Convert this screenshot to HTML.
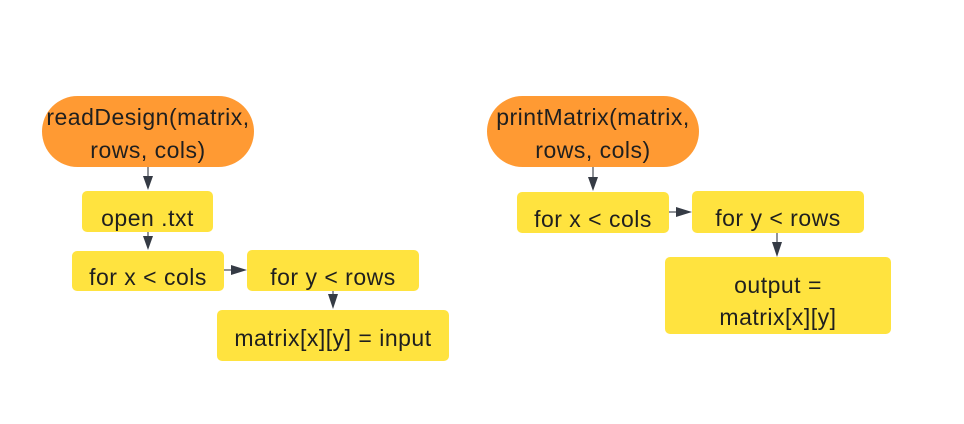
<!DOCTYPE html>
<html><head><meta charset="utf-8"><style>
html,body{margin:0;padding:0;background:#fff;}
body{width:964px;height:419px;overflow:hidden;}
text{font-family:"Liberation Sans",sans-serif;font-size:23px;letter-spacing:0.5px;fill:#1f1f1f;}
</style></head><body>
<svg width="964" height="419" viewBox="0 0 964 419" xmlns="http://www.w3.org/2000/svg">
<!-- left -->
<rect x="42" y="96" width="212" height="71" rx="35.5" fill="#FF9A33"/>
<text x="148" y="125" text-anchor="middle">readDesign(matrix,</text>
<text x="148" y="158" text-anchor="middle">rows, cols)</text>
<rect x="82" y="191" width="131" height="41" rx="5" fill="#FFE33F"/>
<text x="147.5" y="226" text-anchor="middle">open .txt</text>
<rect x="72" y="251" width="152" height="40" rx="5" fill="#FFE33F"/>
<text x="148" y="285" text-anchor="middle">for x &lt; cols</text>
<rect x="247" y="250" width="172" height="41" rx="5" fill="#FFE33F"/>
<text x="333" y="285" text-anchor="middle">for y &lt; rows</text>
<rect x="217" y="310" width="232" height="51" rx="5" fill="#FFE33F"/>
<text x="333" y="346" text-anchor="middle">matrix[x][y] = input</text>
<g stroke="#6b6f76" stroke-width="1.5">
<line x1="148" y1="167" x2="148" y2="177"/>
<line x1="148" y1="232" x2="148" y2="237"/>
<line x1="224" y1="270" x2="232" y2="270"/>
<line x1="333" y1="291" x2="333" y2="295"/>
<line x1="593" y1="167" x2="593" y2="178"/>
<line x1="669" y1="212" x2="677" y2="212"/>
<line x1="777" y1="233" x2="777" y2="243"/>
</g>
<g fill="#353b45">
<polygon points="143,176 153,176 148,190"/>
<polygon points="143,236 153,236 148,250"/>
<polygon points="231,265 231,275 247,270"/>
<polygon points="328,294 338,294 333,309"/>
<polygon points="588,177 598,177 593,191"/>
<polygon points="676,207 676,217 692,212"/>
<polygon points="772,242 782,242 777,257"/>
</g>
<!-- right -->
<rect x="487" y="96" width="212" height="71" rx="35.5" fill="#FF9A33"/>
<text x="593" y="125" text-anchor="middle">printMatrix(matrix,</text>
<text x="593" y="158" text-anchor="middle">rows, cols)</text>
<rect x="517" y="192" width="152" height="41" rx="5" fill="#FFE33F"/>
<text x="593" y="227" text-anchor="middle">for x &lt; cols</text>
<rect x="692" y="191" width="172" height="42" rx="5" fill="#FFE33F"/>
<text x="778" y="226" text-anchor="middle">for y &lt; rows</text>
<rect x="665" y="257" width="226" height="77" rx="5" fill="#FFE33F"/>
<text x="778" y="293" text-anchor="middle">output =</text>
<text x="778" y="325" text-anchor="middle">matrix[x][y]</text>
</svg>
</body></html>
